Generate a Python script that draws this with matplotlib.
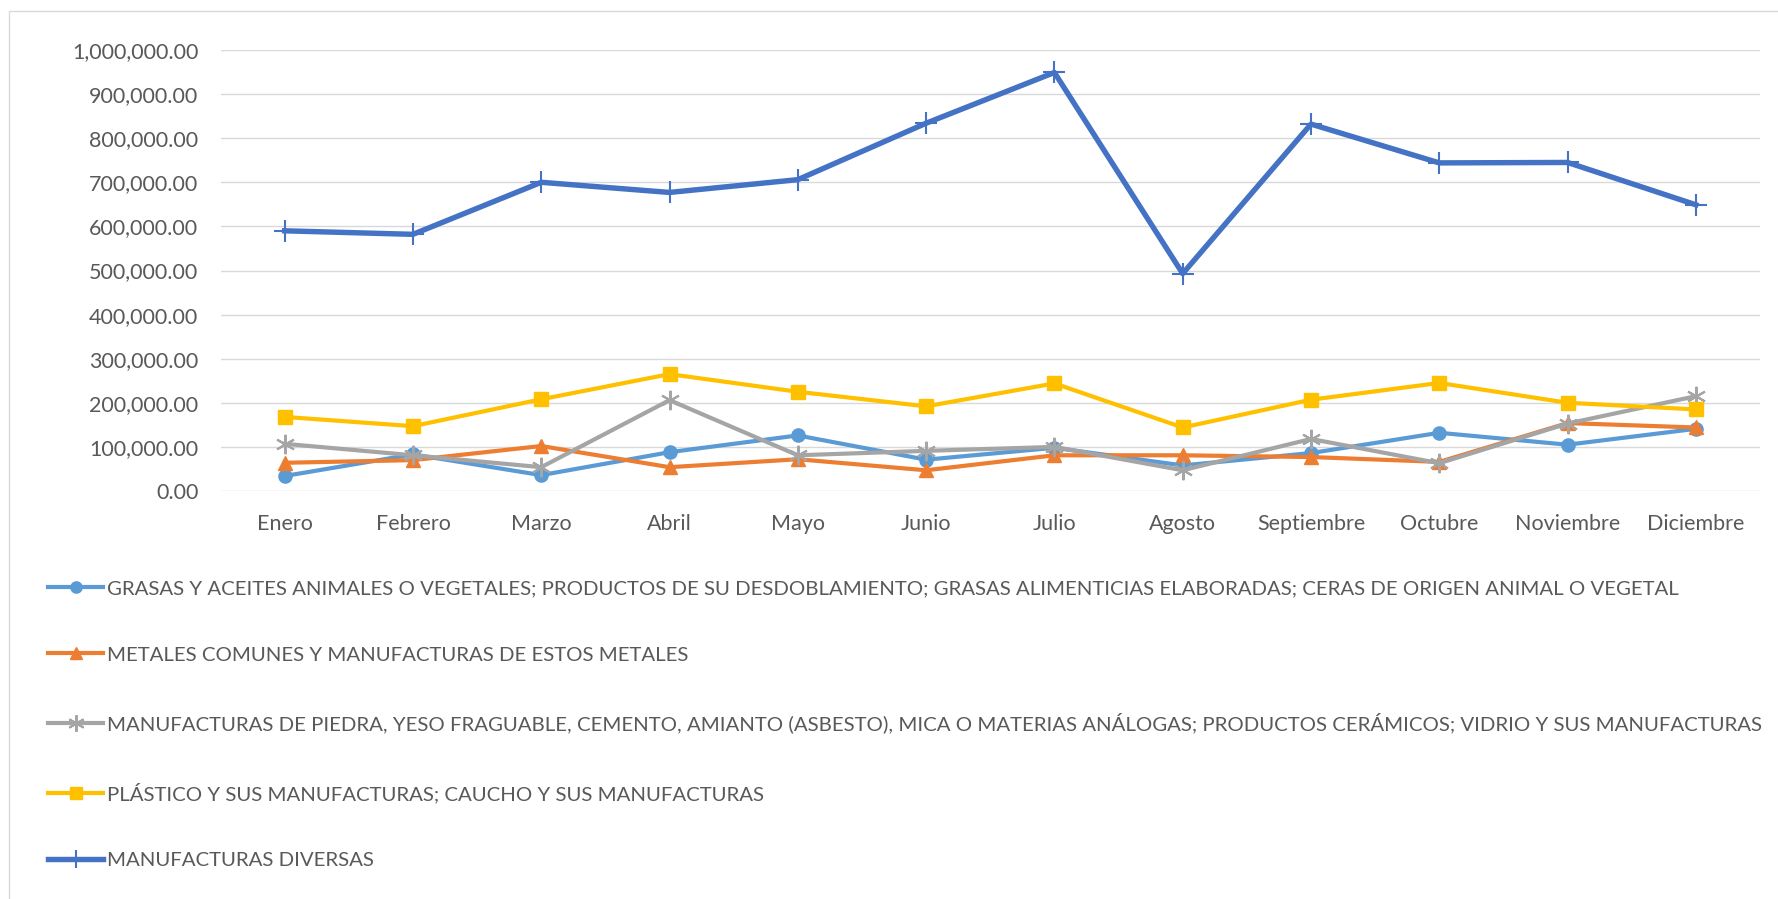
import matplotlib
matplotlib.use("Agg")
import matplotlib.pyplot as plt
from matplotlib.patches import Rectangle
from matplotlib.ticker import FuncFormatter

plt.rcParams['font.family'] = ['Lato', 'DejaVu Sans']

meses = ["Enero", "Febrero", "Marzo", "Abril", "Mayo", "Junio", "Julio",
         "Agosto", "Septiembre", "Octubre", "Noviembre", "Diciembre"]

grasas = [34000, 83000, 36000, 88000, 126000, 71000, 98000, 58000, 86000, 132000, 105000, 141000]
metales = [64000, 70000, 102000, 54000, 72000, 47000, 81000, 81000, 77000, 66000, 154000, 144000]
piedra = [107000, 81000, 54000, 206000, 81000, 91000, 100000, 47000, 118000, 63000, 153000, 215000]
plastico = [168000, 147000, 208000, 265000, 225000, 192000, 244000, 144000, 207000, 245000, 200000, 185000]
diversas = [590000, 582000, 700000, 677000, 706000, 834000, 949000, 493000, 832000, 744000, 745000, 649000]

nombres = [
    "GRASAS Y ACEITES ANIMALES O VEGETALES; PRODUCTOS DE SU DESDOBLAMIENTO; GRASAS ALIMENTICIAS ELABORADAS; CERAS DE ORIGEN ANIMAL O VEGETAL",
    "METALES COMUNES Y MANUFACTURAS DE ESTOS METALES",
    "MANUFACTURAS DE PIEDRA, YESO FRAGUABLE, CEMENTO, AMIANTO (ASBESTO), MICA O MATERIAS ANÁLOGAS; PRODUCTOS CERÁMICOS; VIDRIO Y SUS MANUFACTURAS",
    "PLÁSTICO Y SUS MANUFACTURAS; CAUCHO Y SUS MANUFACTURAS",
    "MANUFACTURAS DIVERSAS",
]

W, H = 1778, 899
fig = plt.figure(figsize=(W / 100, H / 100), dpi=100)
ax = fig.add_axes([220.5 / W, 1 - 491 / H, (1760 - 220.5) / W, (491 - 50) / H])

x = range(len(meses))
lines = []
lines += ax.plot(x, grasas, color="#5B9BD5", lw=3.0, marker="o", ms=9.5, label=nombres[0])
lines += ax.plot(x, metales, color="#ED7D31", lw=3.0, marker="^", ms=10, label=nombres[1])
lines += ax.plot(x, piedra, color="#A5A5A5", lw=3.0, marker=(6, 2, 0), ms=14, mew=1.5, label=nombres[2])
lines += ax.plot(x, plastico, color="#FFC000", lw=3.0, marker="s", ms=10, label=nombres[3])
lines += ax.plot(x, diversas, color="#4472C4", lw=3.9, marker="+", ms=16, mew=1.5, label=nombres[4])

ax.set_xlim(-0.5, len(meses) - 0.5)
ax.set_ylim(0, 1000000)
ax.set_yticks(range(0, 1000001, 100000))
ax.yaxis.set_major_formatter(FuncFormatter(lambda v, p: f"{v:,.2f}"))
ax.set_xticks(list(x))
ax.set_xticklabels(meses)
ax.grid(axis="y", color="#D9D9D9", lw=1.0)
ax.set_axisbelow(True)
for s in ax.spines.values():
    s.set_visible(False)
ax.tick_params(axis="both", length=0, labelsize=15.5, colors="#595959")
ax.tick_params(axis="y", pad=16)
ax.tick_params(axis="x", pad=16.5)

leg = fig.legend(handles=lines, loc="upper left", bbox_to_anchor=(48 / W, 1 - 580 / H),
                 frameon=False, fontsize=14.7, handlelength=2.7, handletextpad=0.2,
                 labelspacing=2.4, borderpad=0, borderaxespad=0, markerscale=0.85)
for t in leg.get_texts():
    t.set_color("#595959")

fig.patches.append(Rectangle((8.5 / W, -0.05), 1.1, 1 - 11 / H + 0.05, transform=fig.transFigure,
                             fill=False, edgecolor="#D9D9D9", lw=1.0))

fig.savefig("out.png", dpi=100)
